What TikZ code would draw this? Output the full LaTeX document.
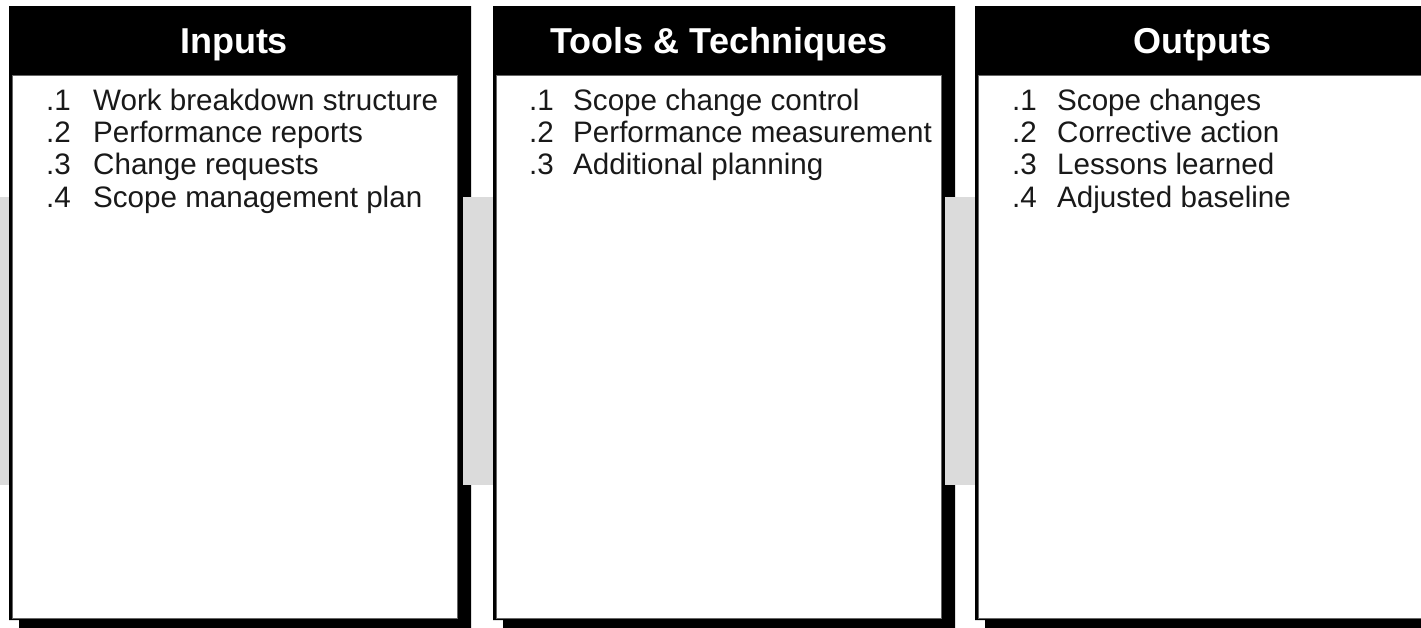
\documentclass[tikz,border=0pt]{standalone}
\usepackage{fontspec}
\setmainfont{Liberation Sans}
\begin{document}
\begin{tikzpicture}[x=1pt,y=-1pt,
  title/.style={text=white,font=\fontsize{36}{40}\selectfont\bfseries,anchor=base,inner sep=0pt},
  item/.style={font=\fontsize{29.6}{32}\selectfont,text=black!90,anchor=base west,inner sep=0pt},
  link/.style={fill=black!14},
  shade/.style={fill=black},
  inner/.style={fill=white}]
\useasboundingbox (0,0) rectangle (1421,627);
\clip (0,0) rectangle (1421,627);
% panels: left x positions 9, 493, 975 (width 450)
\foreach \px/\nm in {9/p1,493/p2,975/p3}{
  \fill[shade] (\px,6) -- (\px+462,6) -- (\px+462,640) -- (\px+10,640) -- (\px+10,620) -- (\px,620) -- cycle;
  \node[inner,draw=black!60,line width=0.6pt,minimum width=445pt,minimum height=543pt,inner sep=0pt,anchor=north west] (\nm) at (\px+3,75) {};
}
% gray connectors
\fill[link] (0,197) rectangle (9,485);
\fill[link] (463,197) rectangle (493,485);
\fill[link] (945,197) rectangle (975,485);
% titles
\node[title] (t1) at (234,53) {Inputs};
\node[title] (t2) at (719,53) {Tools \& Techniques};
\node[title] (t3) at (1202,53) {Outputs};
% items panel 1
\node[item] (a1n) at (46,110) {.1}; \node[item] (a1) at (93,110) {Work breakdown structure};
\node[item] (a2n) at (46,142.3) {.2}; \node[item] (a2) at (93,142.3) {Performance reports};
\node[item] (a3n) at (46,174.6) {.3}; \node[item] (a3) at (93,174.6) {Change requests};
\node[item] (a4n) at (46,207) {.4}; \node[item] (a4) at (93,207) {Scope management plan};
% items panel 2
\node[item] (b1n) at (529,110) {.1}; \node[item] (b1) at (573,110) {Scope change control};
\node[item] (b2n) at (529,142.3) {.2}; \node[item] (b2) at (573,142.3) {Performance measurement};
\node[item] (b3n) at (529,174.6) {.3}; \node[item] (b3) at (573,174.6) {Additional planning};
% items panel 3
\node[item] (c1n) at (1012,110) {.1}; \node[item] (c1) at (1057,110) {Scope changes};
\node[item] (c2n) at (1012,142.3) {.2}; \node[item] (c2) at (1057,142.3) {Corrective action};
\node[item] (c3n) at (1012,174.6) {.3}; \node[item] (c3) at (1057,174.6) {Lessons learned};
\node[item] (c4n) at (1012,207) {.4}; \node[item] (c4) at (1057,207) {Adjusted baseline};
\end{tikzpicture}
\end{document}
